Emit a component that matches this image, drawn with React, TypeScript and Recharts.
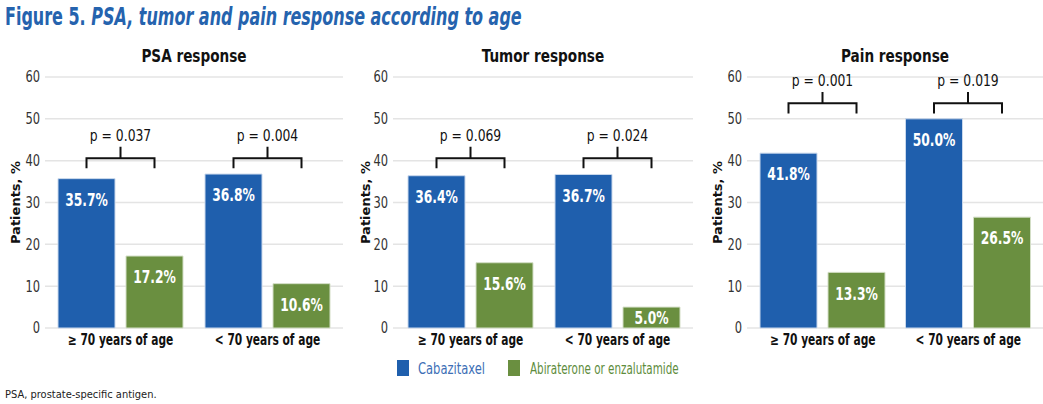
import React from 'react'
import { BarChart, Bar, XAxis, YAxis, CartesianGrid, LabelList } from 'recharts'

/* ─── data ─── */
const ageGroups = ['≥ 70 years of age', '< 70 years of age']

const psaCabazitaxel = [35.7, 36.8]
const psaArta = [17.2, 10.6]
const psaP = ['0.037', '0.004']

const tumorCabazitaxel = [36.4, 36.7]
const tumorArta = [15.6, 5.0]
const tumorP = ['0.069', '0.024']

const painCabazitaxel = [41.8, 50.0]
const painArta = [13.3, 26.5]
const painP = ['0.001', '0.019']

// height (in %) where each panel's significance bracket sits
const bracketLevels = { psa: 40.6, tumor: 40.6, pain: 53.7 }

const yTicks = [0, 10, 20, 30, 40, 50, 60]

/* ─── styles ─── */
const BLUE = '#1F5FAD'
const GREEN = '#6A8F40'
// no condensed face available, so text is squeezed horizontally instead
const NARROW = "'DejaVu Sans Condensed', 'DejaVu Sans', sans-serif"
const BAR_SIZE = 57
const BAR_GAP = 11

type Row = { age: string; cabazitaxel: number; arta: number; p: string }

const makeRows = (cab: number[], arta: number[], p: string[]): Row[] =>
  ageGroups.map((age, i) => ({ age, cabazitaxel: cab[i], arta: arta[i], p: p[i] }))

/* squeezed svg text */
function SqText({ x, y, sx, children, ...rest }: any) {
  return (
    <text transform={`translate(${x},${y}) scale(${sx},1)`} x={0} y={0} {...rest}>{children}</text>
  )
}

/* bracket + p value drawn above each pair of bars */
function makeBracket(rows: Row[], level: number) {
  return (props: any) => {
    const vb = props.viewBox ?? props
    const { x, y, width, height } = vb
    const row = rows[props.index]
    if (!row || !height) return null
    const pxPerUnit = height / row.cabazitaxel
    const base = y + height
    const yAt = (v: number) => base - v * pxPerUnit
    const x1 = x + width / 2
    const x2 = x + width + BAR_GAP + width / 2
    const xm = (x1 + x2) / 2
    const yLine = yAt(level)
    return (
      <g>
        <path
          d={`M${x1},${yAt(level - 2.4)} V${yLine} H${x2} V${yAt(level - 2.4)} M${xm},${yLine} V${yAt(level + 2.7)}`}
          stroke="#111" strokeWidth={2} fill="none"
        />
        <SqText x={xm} y={yAt(level + 5.5)} sx={0.86} textAnchor="middle" dominantBaseline="central"
          fontFamily={NARROW} fontSize={16} fill="#111">
          {`p = ${row.p}`}
        </SqText>
      </g>
    )
  }
}

/* white percentage inside the top of a bar */
const valueLabel = (props: any) => {
  const vb = props.viewBox ?? props
  const { x, y, width, height } = vb
  const cy = y + Math.min(21, height / 2)
  return (
    <SqText x={x + width / 2} y={cy} sx={0.76} textAnchor="middle" dominantBaseline="central"
      fontFamily={NARROW} fontWeight={700} fontSize={18} fill="#fff">
      {`${Number(props.value).toFixed(1)}%`}
    </SqText>
  )
}

const AgeTick = ({ x, y, payload }: any) => (
  <SqText x={x} y={y} sx={0.79} textAnchor="middle" dy="0.75em"
    fontFamily={NARROW} fontSize={15} fontWeight={700} fill="#111">{payload.value}</SqText>
)

const PctTick = ({ x, y, payload }: any) => (
  <SqText x={x} y={y} sx={0.85} textAnchor="end" dominantBaseline="central"
    fontFamily={NARROW} fontSize={15} fill="#333">{payload.value}</SqText>
)

function Panel({ title, rows, level, left, width, yAxisWidth, marginRight, padLeft }: {
  title: string; rows: Row[]; level: number; left: number; width: number
  yAxisWidth: number; marginRight: number; padLeft: number
}) {
  const plotCenter = (yAxisWidth + width - marginRight) / 2
  return (
    <div style={{ position: 'absolute', left, top: 0, width, height: 360 }}>
      <div style={{
        position: 'absolute', left: plotCenter - 100, width: 200, top: 45, textAlign: 'center',
        fontFamily: NARROW, fontWeight: 700, fontSize: 18, color: '#111',
        transform: 'scaleX(0.84)', transformOrigin: 'center',
      }}>{title}</div>
      <BarChart
        width={width} height={360} data={rows}
        margin={{ top: 77, right: marginRight, left: 0, bottom: 8 }}
        barSize={BAR_SIZE} barGap={BAR_GAP}
      >
        <CartesianGrid vertical={false} stroke="#E4E4E4" strokeWidth={1.5} />
        <XAxis
          dataKey="age" axisLine={false} tickLine={false} tickSize={0} tickMargin={6} height={24}
          padding={{ left: padLeft, right: 2 }} tick={<AgeTick />}
        />
        <YAxis
          domain={[0, 60]} ticks={yTicks} width={yAxisWidth} axisLine={false} tickLine={false}
          tickSize={0} tickMargin={5} tick={<PctTick />}
          label={{
            content: (p: any) => {
              const vb = p.viewBox
              const cy = vb.y + vb.height / 2
              return (
                <text x={15} y={cy} transform={`rotate(-90 15 ${cy})`} textAnchor="middle"
                  dominantBaseline="central" fontFamily="'DejaVu Sans', sans-serif"
                  fontWeight={700} fontSize={13} fill="#111">Patients, %</text>
              )
            },
          }}
        />
        <Bar dataKey="cabazitaxel" name="Cabazitaxel" fill={BLUE} stroke="#C9D8EC" strokeWidth={1}
          isAnimationActive={false}>
          <LabelList dataKey="cabazitaxel" content={valueLabel} />
          <LabelList dataKey="cabazitaxel" content={makeBracket(rows, level)} />
        </Bar>
        <Bar dataKey="arta" name="Abiraterone or enzalutamide" fill={GREEN} stroke="#D3DEC6" strokeWidth={1}
          isAnimationActive={false}>
          <LabelList dataKey="arta" content={valueLabel} />
        </Bar>
      </BarChart>
    </div>
  )
}

export default function App() {
  return (
    <div style={{ position: 'absolute', left: 0, top: 0, width: 1043, height: 404, background: '#fff', overflow: 'hidden' }}>
      <div style={{
        position: 'absolute', left: 5, top: 3, fontFamily: NARROW, fontWeight: 700, fontSize: 24,
        color: '#2563AE', whiteSpace: 'nowrap', transform: 'scaleX(0.74)', transformOrigin: 'left',
      }}>
        Figure 5. <i>PSA, tumor and pain response according to age</i>
      </div>

      <Panel title="PSA response" rows={makeRows(psaCabazitaxel, psaArta, psaP)} level={bracketLevels.psa}
        left={0} width={345} yAxisWidth={45} marginRight={2} padLeft={2} />
      <Panel title="Tumor response" rows={makeRows(tumorCabazitaxel, tumorArta, tumorP)} level={bracketLevels.tumor}
        left={350} width={345} yAxisWidth={43} marginRight={2} padLeft={4} />
      <Panel title="Pain response" rows={makeRows(painCabazitaxel, painArta, painP)} level={bracketLevels.pain}
        left={702} width={341} yAxisWidth={45} marginRight={0} padLeft={3} />

      {/* legend */}
      <div style={{
        position: 'absolute', left: 397, top: 360, height: 16, display: 'flex', alignItems: 'center',
        fontFamily: NARROW, fontSize: 16, whiteSpace: 'nowrap',
      }}>
        <span style={{ width: 12, height: 16, background: BLUE, display: 'inline-block', marginRight: 9 }} />
        <span style={{ color: '#3D6FB6', display: 'inline-block', width: 61 }}>
          <span style={{ display: 'inline-block', transform: 'scaleX(0.8)', transformOrigin: 'left' }}>Cabazitaxel</span>
        </span>
        <span style={{ width: 12, height: 16, background: GREEN, display: 'inline-block', marginLeft: 29, marginRight: 10 }} />
        <span style={{ color: '#5E8C3C', display: 'inline-block', transform: 'scaleX(0.72)', transformOrigin: 'left' }}>
          Abiraterone or enzalutamide
        </span>
      </div>

      <div style={{
        position: 'absolute', left: 5, top: 388, fontFamily: NARROW, fontSize: 11, color: '#222',
      }}>PSA, prostate-specific antigen.</div>
    </div>
  )
}
